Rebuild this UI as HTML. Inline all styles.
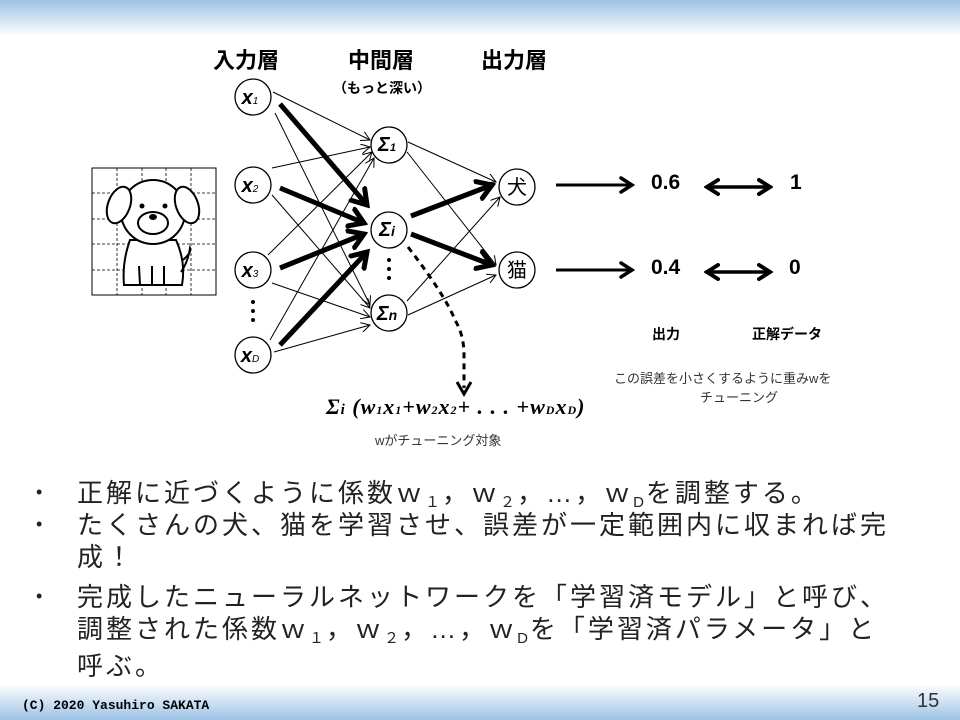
<!DOCTYPE html>
<html><head><meta charset="utf-8"><style>
body{margin:0;width:960px;height:720px;position:relative;background:#fff;overflow:hidden;font-family:"Liberation Sans","Noto Sans CJK JP",sans-serif;}
.hdr{position:absolute;left:0;top:0;width:960px;height:36px;background:linear-gradient(#9dc3e6,#fff);}
.ftr{position:absolute;left:0;top:684px;width:960px;height:36px;background:linear-gradient(#fff,#9dc3e6);}
.t{position:absolute;white-space:nowrap;}
.b{position:absolute;left:77px;font-size:26px;letter-spacing:3px;color:#222;line-height:32px;white-space:nowrap;}
.b s{text-decoration:none;font-size:15px;position:relative;top:5px;letter-spacing:2px;}
.dot{position:absolute;left:36px;font-size:18px;color:#222;}
</style></head><body>
<div class="hdr"></div><div class="ftr"></div>
<svg width="960" height="720" style="position:absolute;left:0;top:0">
<defs>
<marker id="a" markerWidth="10" markerHeight="10" refX="9" refY="5" orient="auto" markerUnits="userSpaceOnUse"><path d="M0,0 L9,5 L0,10" fill="none" stroke="#000" stroke-width="1"/></marker>
<marker id="A" markerWidth="20" markerHeight="24" refX="16" refY="12" orient="auto" markerUnits="userSpaceOnUse"><path d="M2,3 L16,12 L2,21" fill="none" stroke="#000" stroke-width="5" stroke-linecap="round"/></marker>
<marker id="R" markerWidth="16" markerHeight="20" refX="13" refY="10" orient="auto" markerUnits="userSpaceOnUse"><path d="M2,3 L13,10 L2,17" fill="none" stroke="#000" stroke-width="3.5" stroke-linecap="round"/></marker>
<marker id="B" markerWidth="16" markerHeight="20" refX="13" refY="10" orient="auto" markerUnits="userSpaceOnUse"><path d="M2,3 L13,10 L2,17" fill="none" stroke="#000" stroke-width="4" stroke-linecap="round"/></marker>
<marker id="Bs" markerWidth="16" markerHeight="20" refX="3" refY="10" orient="auto" markerUnits="userSpaceOnUse"><path d="M14,3 L3,10 L14,17" fill="none" stroke="#000" stroke-width="4" stroke-linecap="round"/></marker>
</defs>
<g stroke="#000" stroke-width="1" fill="none" marker-end="url(#a)">
<line x1="273" y1="92" x2="370" y2="140"/>
<line x1="275" y1="113" x2="370" y2="305"/>
<line x1="272" y1="168" x2="370" y2="147"/>
<line x1="272" y1="195" x2="370" y2="308"/>
<line x1="268" y1="255" x2="372" y2="152"/>
<line x1="272" y1="283" x2="370" y2="317"/>
<line x1="270" y1="340" x2="374" y2="158"/>
<line x1="274" y1="352" x2="370" y2="325"/>
<line x1="408" y1="142" x2="496" y2="182"/>
<line x1="407" y1="152" x2="496" y2="265"/>
<line x1="407" y1="301" x2="500" y2="197"/>
<line x1="408" y1="315" x2="496" y2="275"/>
</g>
<g stroke="#000" stroke-width="5" fill="none" marker-end="url(#A)">
<line x1="280" y1="104" x2="367" y2="205"/>
<line x1="280" y1="188" x2="364" y2="223"/>
<line x1="280" y1="268" x2="364" y2="234"/>
<line x1="280" y1="345" x2="367" y2="252"/>
<line x1="411" y1="216" x2="492" y2="185"/>
<line x1="411" y1="234" x2="492" y2="265"/>
</g>
<g stroke="#000" stroke-width="3" marker-end="url(#R)">
<line x1="556" y1="185" x2="632" y2="185"/>
<line x1="556" y1="270" x2="632" y2="270"/>
</g>
<g stroke="#000" stroke-width="3.5" marker-end="url(#B)" marker-start="url(#Bs)">
<line x1="707" y1="187" x2="770" y2="187"/>
<line x1="707" y1="272" x2="770" y2="272"/>
</g>
<path d="M408,247 Q445,295 455,320 Q464,335 464,355 L464,388" stroke="#000" stroke-width="3" stroke-dasharray="6,5" fill="none"/>
<path d="M457,382 L464,394 L471,382" stroke="#000" stroke-width="3" fill="none"/>
<g stroke="#000" stroke-width="1.3" fill="#fff">
<circle cx="253" cy="97" r="18"/><circle cx="253" cy="185" r="18"/><circle cx="253" cy="270" r="18"/><circle cx="253" cy="355" r="18"/>
<circle cx="389" cy="145" r="18"/><circle cx="389" cy="230" r="18"/><circle cx="389" cy="313" r="18"/>
<circle cx="517" cy="187" r="18"/><circle cx="517" cy="270" r="18"/>
</g>
<g fill="#000"><circle cx="253" cy="302" r="2"/><circle cx="253" cy="311" r="2"/><circle cx="253" cy="320" r="2"/>
<circle cx="389" cy="260" r="2"/><circle cx="389" cy="269" r="2"/><circle cx="389" cy="278" r="2"/></g>
<g font-family="Liberation Sans,sans-serif" font-style="italic" font-weight="bold" text-anchor="middle">
<text x="250" y="104" font-size="20">x<tspan font-size="10" font-weight="normal">1</tspan></text>
<text x="250" y="192" font-size="20">x<tspan font-size="10" font-weight="normal">2</tspan></text>
<text x="250" y="277" font-size="20">x<tspan font-size="10" font-weight="normal">3</tspan></text>
<text x="250" y="362" font-size="20">x<tspan font-size="10" font-weight="normal">D</tspan></text>
<text x="387" y="151" font-size="20">Σ<tspan font-size="11">1</tspan></text>
<text x="387" y="236" font-size="20">Σ<tspan font-size="14">i</tspan></text>
<text x="387" y="320" font-size="20">Σ<tspan font-size="14">n</tspan></text>
</g>
<g font-family="Liberation Sans,Noto Sans CJK JP,sans-serif" text-anchor="middle" font-size="20">
<text x="517" y="194">犬</text><text x="517" y="277">猫</text>
</g>
<rect x="92" y="168" width="124" height="127" fill="none" stroke="#000" stroke-width="1"/>
<g stroke="#000" stroke-width="0.8" stroke-dasharray="3,2">
<line x1="117" y1="168" x2="117" y2="295"/><line x1="142" y1="168" x2="142" y2="295"/><line x1="166" y1="168" x2="166" y2="295"/><line x1="191" y1="168" x2="191" y2="295"/>
<line x1="92" y1="193" x2="216" y2="193"/><line x1="92" y1="219" x2="216" y2="219"/><line x1="92" y1="244" x2="216" y2="244"/><line x1="92" y1="270" x2="216" y2="270"/>
</g>
<g stroke="#000" stroke-width="2" fill="#fff">
<path d="M130,240 Q122,262 124,285 L182,285 Q186,262 176,240 Z"/>
<circle cx="153" cy="212" r="32"/>
<ellipse cx="119" cy="205" rx="11" ry="19" transform="rotate(20 119 205)"/>
<ellipse cx="187" cy="205" rx="11" ry="19" transform="rotate(-20 187 205)"/>
<ellipse cx="153" cy="223" rx="15" ry="11"/>
<path d="M183,260 Q192,252 190,248 Q188,262 181,272" fill="none"/>
<line x1="139" y1="266" x2="140" y2="285"/><line x1="152" y1="266" x2="152" y2="285"/><line x1="164" y1="266" x2="164" y2="285"/>
</g>
<circle cx="142" cy="206" r="2.5"/><circle cx="165" cy="206" r="2.5"/><ellipse cx="153" cy="217" rx="4" ry="3"/>
</svg>
<div class="t" style="left:213px;top:43px;font-size:22px;font-weight:bold">入力層</div>
<div class="t" style="left:348px;top:43px;font-size:22px;font-weight:bold">中間層</div>
<div class="t" style="left:481px;top:43px;font-size:22px;font-weight:bold">出力層</div>
<div class="t" style="left:333px;top:78px;font-size:14px;font-weight:bold">（もっと深い）</div>
<div class="t" style="left:651px;top:171px;font-size:21px;font-weight:bold">0.6</div>
<div class="t" style="left:790px;top:171px;font-size:21px;font-weight:bold">1</div>
<div class="t" style="left:651px;top:256px;font-size:21px;font-weight:bold">0.4</div>
<div class="t" style="left:789px;top:256px;font-size:21px;font-weight:bold">0</div>
<div class="t" style="left:652px;top:324px;font-size:14px;font-weight:bold">出力</div>
<div class="t" style="left:752px;top:324px;font-size:14px;font-weight:bold">正解データ</div>
<div class="t" style="left:614px;top:368px;font-size:13px;color:#333">この誤差を小さくするように重みwを</div>
<div class="t" style="left:700px;top:387px;font-size:13px;color:#333">チューニング</div>
<div class="t" style="left:326px;top:394px;font-size:22px;letter-spacing:1px;font-family:'Liberation Serif',serif;font-weight:bold;font-style:italic">Σ<span style="font-size:15px">i</span> (w<span style="font-size:12px">1</span>x<span style="font-size:12px">1</span>+w<span style="font-size:12px">2</span>x<span style="font-size:12px">2</span>+ . . . +w<span style="font-size:12px">D</span>x<span style="font-size:12px">D</span>)</div>
<div class="t" style="left:375px;top:430px;font-size:13px;color:#333">wがチューニング対象</div>
<div class="dot" style="top:482px">•</div><div class="b" style="top:477px">正解に近づくように係数ｗ<s>１</s>，ｗ<s>２</s>，…，ｗ<s>D</s>を調整する。</div>
<div class="dot" style="top:514px">•</div><div class="b" style="top:509px">たくさんの犬、猫を学習させ、誤差が一定範囲内に収まれば完<br>成！</div>
<div class="dot" style="top:586px">•</div><div class="b" style="top:581px">完成したニューラルネットワークを「学習済モデル」と呼び、<br>調整された係数ｗ<s>１</s>，ｗ<s>２</s>，…，ｗ<s>D</s>を「学習済パラメータ」と<br>呼ぶ。</div>
<div class="t" style="left:22px;top:698px;font-size:13px;font-family:'Liberation Mono',monospace;font-weight:bold">(C) 2020 Yasuhiro SAKATA</div>
<div class="t" style="left:917px;top:690px;font-size:20px;color:#333">15</div>
</body></html>
